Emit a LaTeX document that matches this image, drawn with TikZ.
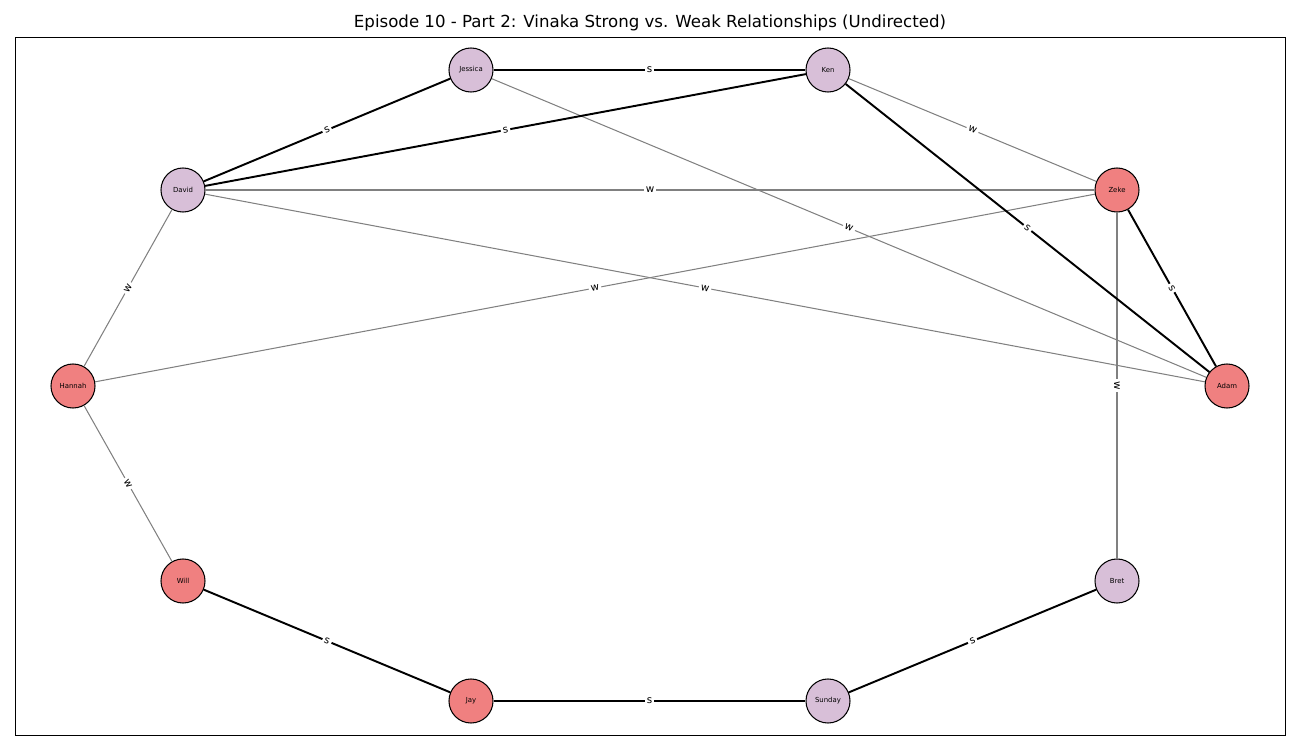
\documentclass[tikz,border=0pt]{standalone}
\usepackage{fontspec}
\setmainfont{DejaVu Sans}
\usetikzlibrary{positioning}
\definecolor{coral}{RGB}{240,128,128}
\definecolor{thistle}{RGB}{216,191,216}
\definecolor{weakgray}{RGB}{128,128,128}

\begin{document}
\begin{tikzpicture}[x=0.01in,y=-0.01in,
  person/.style={circle,draw=black,line width=0.75pt,minimum size=0.44in,inner sep=0pt,font=\fontsize{5}{6}\selectfont},
  strong/.style={draw=black,line width=1.4pt},
  weak/.style={draw=weakgray,line width=0.75pt},
  tie/.style={midway,sloped,fill=white,inner sep=1.5pt,font=\fontsize{7.5}{9}\selectfont}]
        \useasboundingbox (0,0) rectangle (1300,750);
        \draw[line width=0.6pt] (15,37) rectangle (1285,735);
        \node[font=\fontsize{12}{14}\selectfont] (title) at (650,23) {Episode 10 - Part 2: Vinaka Strong vs. Weak Relationships (Undirected)};
        % people, with colour
        \foreach \name/\x/\y/\c in {Jessica/471/70/thistle, Ken/828/70/thistle, David/183/190/thistle,
          Zeke/1117/190/coral, Hannah/73/386/coral, Adam/1227/386/coral, Will/183/581/coral,
          Bret/1117/581/thistle, Jay/471/701/coral, Sunday/828/701/thistle}{
          \node[person,fill=\c] (\name) at (\x,\y) {\name};
        }
        % weak ties
        \foreach \a/\b in {Ken/Zeke, Jessica/Adam, David/Zeke, David/Adam, Hannah/Zeke,
          David/Hannah, Hannah/Will, Zeke/Bret}{
          \draw[weak] (\a) -- (\b) node[tie] {w};
        }
        % strong ties
        \foreach \a/\b in {Jessica/Ken, David/Jessica, David/Ken, Ken/Adam, Zeke/Adam,
          Will/Jay, Jay/Sunday, Sunday/Bret}{
          \draw[strong] (\a) -- (\b) node[tie] {s};
        }
      \end{tikzpicture}
\end{document}
